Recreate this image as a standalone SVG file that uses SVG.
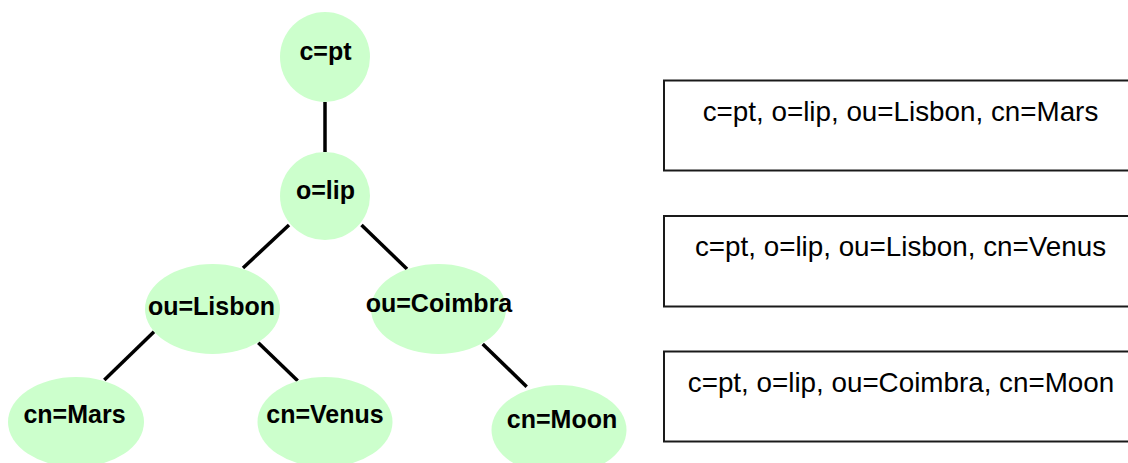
<svg xmlns="http://www.w3.org/2000/svg" width="1128" height="463" viewBox="0 0 1128 463">
<style>
.node{fill:#CCFFCC;stroke:none}
.nl{font-family:"Liberation Sans",Arial,sans-serif;font-weight:bold;font-size:25px;fill:#000;text-anchor:middle}
.edge{stroke:#000;stroke-width:3.5;fill:none}
.box{fill:#fff;stroke:#1a1a1a;stroke-width:2}
.bl{font-family:"Liberation Sans",Arial,sans-serif;font-size:27.8px;fill:#000;text-anchor:middle}
</style>
<rect width="1128" height="463" fill="#fff"/>
<g id="connectors">
<line class="edge" x1="325" y1="102" x2="325" y2="152"/>
<line class="edge" x1="289" y1="225" x2="243" y2="268"/>
<line class="edge" x1="361.5" y1="225" x2="407" y2="269"/>
<line class="edge" x1="154" y1="331.7" x2="104.3" y2="380"/>
<line class="edge" x1="258.3" y1="342.7" x2="297.7" y2="380.7"/>
<line class="edge" x1="482.7" y1="344" x2="526.7" y2="386.7"/>
</g>
<g id="n-cpt"><ellipse class="node" cx="325" cy="57" rx="45" ry="45"/><text class="nl" x="325.5" y="59.5">c=pt</text></g>
<g id="n-olip"><ellipse class="node" cx="325" cy="196" rx="45" ry="44"/><text class="nl" x="325.5" y="199">o=lip</text></g>
<g id="n-lisbon"><ellipse class="node" cx="212.5" cy="309" rx="67.5" ry="45"/><text class="nl" x="211.5" y="315">ou=Lisbon</text></g>
<g id="n-coimbra"><ellipse class="node" cx="438.5" cy="309" rx="67.5" ry="45"/><text class="nl" x="439" y="312">ou=Coimbra</text></g>
<g id="n-mars"><ellipse class="node" cx="76" cy="422" rx="68" ry="45"/><text class="nl" x="74.5" y="423.3">cn=Mars</text></g>
<g id="n-venus"><ellipse class="node" cx="325" cy="422" rx="67.5" ry="45"/><text class="nl" x="325" y="423">cn=Venus</text></g>
<g id="n-moon"><ellipse class="node" cx="559" cy="430" rx="67.5" ry="45"/><text class="nl" x="562" y="428.3">cn=Moon</text></g>
<g id="box-mars"><rect class="box" x="664" y="80.5" width="480" height="90"/><text class="bl" x="900.5" y="121">c=pt, o=lip, ou=Lisbon, cn=Mars</text></g>
<g id="box-venus"><rect class="box" x="664" y="216" width="480" height="90.5"/><text class="bl" x="900.5" y="256">c=pt, o=lip, ou=Lisbon, cn=Venus</text></g>
<g id="box-moon"><rect class="box" x="664" y="351.5" width="480" height="90"/><text class="bl" x="901" y="391.7">c=pt, o=lip, ou=Coimbra, cn=Moon</text></g>
</svg>
